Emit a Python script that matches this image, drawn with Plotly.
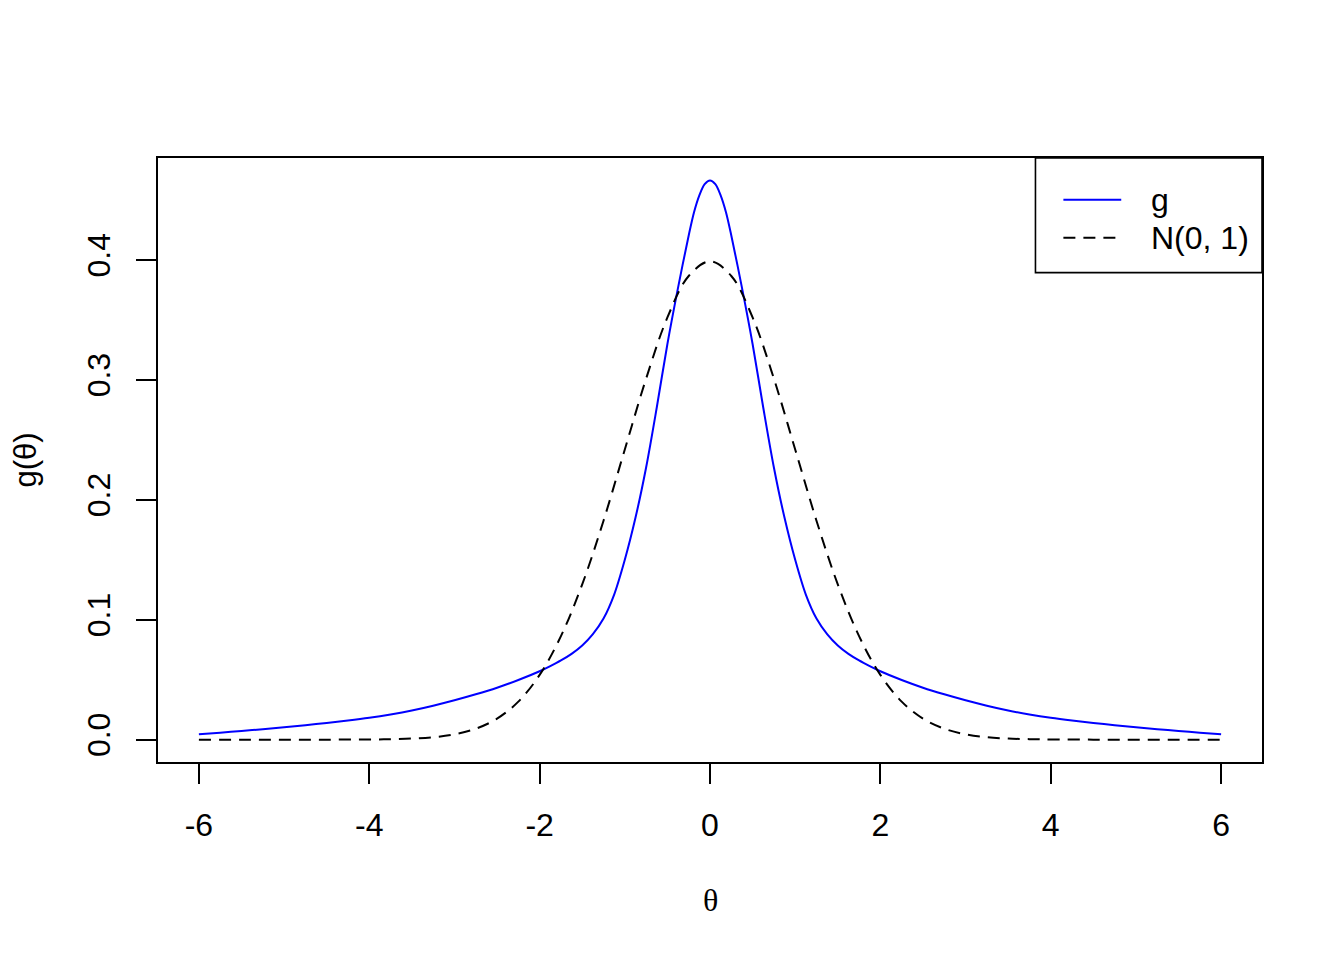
import plotly.graph_objects as go

# ---- data ----
theta_g = [-6.0, -5.75, -5.5, -5.25, -5.0, -4.75, -4.5, -4.25, -4.0, -3.75, -3.5, -3.25,
           -3.0, -2.75, -2.5, -2.25, -2.0, -1.875, -1.75, -1.625, -1.5, -1.375, -1.25,
           -1.125, -1.0, -0.875, -0.75, -0.625, -0.5, -0.375, -0.25, -0.1875, -0.125, -0.0625, 0.0,
           0.0625, 0.125, 0.1875, 0.25, 0.375, 0.5, 0.625, 0.75, 0.875, 1.0, 1.125, 1.25,
           1.375, 1.5, 1.625, 1.75, 1.875, 2.0, 2.25, 2.5, 2.75, 3.0, 3.25,
           3.5, 3.75, 4.0, 4.25, 4.5, 4.75, 5.0, 5.25, 5.5, 5.75, 6.0]
g_vals = [0.0045, 0.0058, 0.0072, 0.0087, 0.0103, 0.0120, 0.0139, 0.0159, 0.0182, 0.0210, 0.0243, 0.0283,
          0.0328, 0.0378, 0.0433, 0.0497, 0.0570, 0.0613, 0.0660, 0.0715, 0.0785, 0.0880, 0.1010,
          0.1210, 0.1500, 0.1850, 0.2270, 0.2770, 0.3300, 0.3770, 0.4205, 0.4399, 0.4540, 0.4633, 0.4664,
          0.4633, 0.4540, 0.4399, 0.4205, 0.3770, 0.3300, 0.2770, 0.2270, 0.1850, 0.1500, 0.1210, 0.1010,
          0.0880, 0.0785, 0.0715, 0.0660, 0.0613, 0.0570, 0.0497, 0.0433, 0.0378, 0.0328, 0.0283,
          0.0243, 0.0210, 0.0182, 0.0159, 0.0139, 0.0120, 0.0103, 0.0087, 0.0072, 0.0058, 0.0045]

theta_n = [-6.0, -5.5, -5.0, -4.5, -4.0, -3.75, -3.5, -3.25, -3.0, -2.75, -2.5, -2.25, -2.0,
           -1.75, -1.5, -1.25, -1.0, -0.75, -0.5, -0.25, 0.0, 0.25, 0.5, 0.75, 1.0, 1.25,
           1.5, 1.75, 2.0, 2.25, 2.5, 2.75, 3.0, 3.25, 3.5, 3.75, 4.0, 4.5, 5.0, 5.5, 6.0]
n_vals = [0.0, 0.0, 0.0, 0.0, 0.0001, 0.0004, 0.0009, 0.0020, 0.0044, 0.0091, 0.0175, 0.0317, 0.0540,
          0.0863, 0.1295, 0.1826, 0.2420, 0.3011, 0.3521, 0.3867, 0.3989, 0.3867, 0.3521, 0.3011, 0.2420, 0.1826,
          0.1295, 0.0863, 0.0540, 0.0317, 0.0175, 0.0091, 0.0044, 0.0020, 0.0009, 0.0004, 0.0001, 0.0, 0.0, 0.0, 0.0]

x_ticks = [-6, -4, -2, 0, 2, 4, 6]
y_ticks = [0.0, 0.1, 0.2, 0.3, 0.4]
legend_labels = ["g", "N(0, 1)"]

FONT = "Liberation Sans, Arial, Helvetica, sans-serif"
SERIF = "Liberation Serif, Times New Roman, serif"
FS = 32

fig = go.Figure()
fig.add_trace(go.Scatter(x=theta_g, y=g_vals, mode="lines", name=legend_labels[0],
                         line=dict(color="blue", width=2, shape="spline", smoothing=0.9),
                         showlegend=False))
fig.add_trace(go.Scatter(x=theta_n, y=n_vals, mode="lines", name=legend_labels[1],
                         line=dict(color="black", width=2, dash="12px,8px", shape="spline", smoothing=1.0),
                         showlegend=False))

# manual R-style legend (paper coordinates)
fig.add_shape(type="rect", xref="paper", yref="paper", x0=0.7948, x1=1.0, y0=0.8102, y1=1.0,
              line=dict(color="black", width=1.6), fillcolor="white", layer="above")
leg_y = [0.9307, 0.868]
leg_style = [dict(color="blue", width=2), dict(color="black", width=2, dash="12px,8px")]
for lbl, yy, st in zip(legend_labels, leg_y, leg_style):
    fig.add_shape(type="line", xref="paper", yref="paper", x0=0.8201, x1=0.8725, y0=yy, y1=yy,
                  line=st, layer="above")
    fig.add_annotation(text=lbl, xref="paper", yref="paper", x=0.8978, y=yy, xanchor="left",
                       yanchor="middle", showarrow=False, font=dict(family=FONT, size=FS, color="black"))

# x axis title
fig.add_annotation(text="θ", xref="paper", yref="paper", x=0.5, y=-0.228, xanchor="center",
                   yanchor="middle", showarrow=False, font=dict(family=SERIF, size=FS, color="black"))

fig.update_layout(
    width=1344, height=960,
    margin=dict(l=150, r=90, t=150, b=206, autoexpand=False),
    paper_bgcolor="white", plot_bgcolor="white",
    font=dict(family=FONT, size=FS, color="black"),
    xaxis=dict(range=[-6.48, 6.48], tickvals=x_ticks, ticktext=[str(v) for v in x_ticks],
               ticks="outside", ticklen=20, tickwidth=1.6, tickcolor="black",
               showline=True, mirror=True, linecolor="black", linewidth=1.6,
               showgrid=False, zeroline=False, ticklabelstandoff=14, automargin=False,
               tickfont=dict(family=FONT, size=FS)),
    yaxis=dict(range=[-0.01866, 0.4851], tickvals=y_ticks, ticktext=[f"{v:.1f}" for v in y_ticks],
               ticks="outside", ticklen=20, tickwidth=1.6, tickcolor="black",
               showline=True, mirror=True, linecolor="black", linewidth=1.6,
               showgrid=False, zeroline=False, tickangle=-90, ticklabelstandoff=13, automargin=False,
               tickfont=dict(family=FONT, size=FS),
               title=dict(text="g(θ)", standoff=56, font=dict(family=FONT, size=FS - 1))),
)

fig.write_html("out.html")
